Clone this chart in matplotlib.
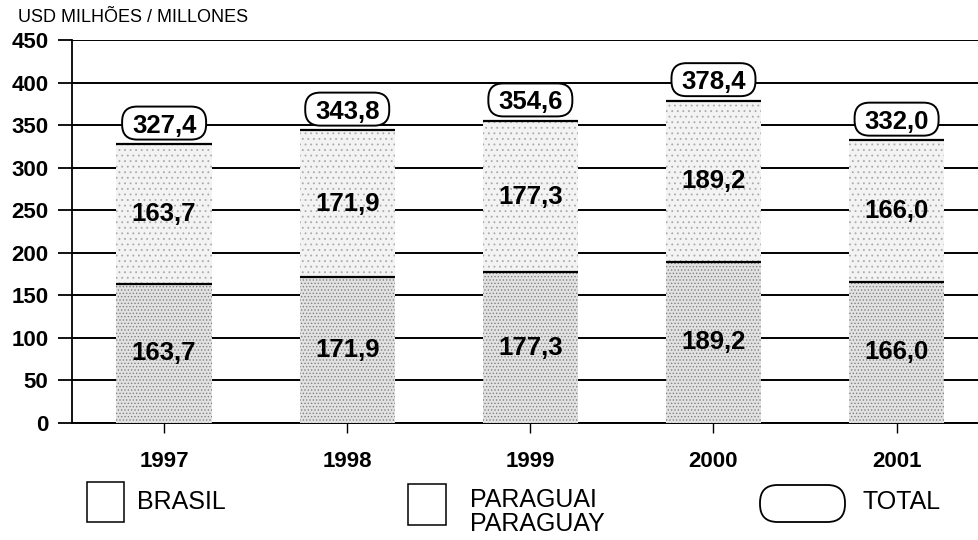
import matplotlib
matplotlib.use("Agg")
import matplotlib.pyplot as plt
from matplotlib.patches import FancyBboxPatch, Rectangle
import numpy as np

plt.rcParams['font.family'] = ['Liberation Sans', 'DejaVu Sans']
plt.rcParams['hatch.linewidth'] = 0.6

years = ['1997', '1998', '1999', '2000', '2001']
brasil = [163.7, 171.9, 177.3, 189.2, 166.0]
paraguai = [163.7, 171.9, 177.3, 189.2, 166.0]
totals = [327.4, 343.8, 354.6, 378.4, 332.0]
yticks = [0, 50, 100, 150, 200, 250, 300, 350, 400, 450]


def fmt(v):
    return f"{v:.1f}".replace('.', ',')


W, H = 979, 540
fig = plt.figure(figsize=(W / 100, H / 100), dpi=100)
ax = fig.add_axes([72 / W, 117 / H, 1 - 72 / W, 383 / H])

x = np.arange(len(years))
w = 0.52
XMIN, XMAX, YMAX = -0.503, 4.45, 450
ax.set_xlim(XMIN, XMAX)
ax.set_ylim(0, YMAX)

ax.bar(x, brasil, width=w, color='#e2e2e2', edgecolor='#808080',
       linewidth=0, hatch='.....', zorder=3)
ax.bar(x, paraguai, width=w, bottom=brasil, color='#f3f3f3',
       edgecolor='#aaaaaa', linewidth=0, hatch='...', zorder=3)

# dark rules at the top of each segment
ax.hlines(brasil, x - w / 2, x + w / 2, color='black', lw=1.6, zorder=4)
ax.hlines(totals, x - w / 2, x + w / 2, color='black', lw=1.6, zorder=4)

# pixel scale of the data axes, used to keep the total boxes' corners round
px_x = ax.get_position().width * W / (XMAX - XMIN)
px_y = ax.get_position().height * H / YMAX
box_w, box_h = 84 / px_x, 33 / px_y
rad = 15 / px_x

val_font = dict(fontsize=18.5, fontweight='semibold')

for xi, b, p, t in zip(x, brasil, paraguai, totals):
    ax.text(xi, b / 2, fmt(b), ha='center', va='center', zorder=5, **val_font)
    ax.text(xi, b + p / 2, fmt(p), ha='center', va='center', zorder=5,
            **val_font)
    yc = t + 25
    ax.add_patch(FancyBboxPatch((xi - box_w / 2, yc - box_h / 2), box_w, box_h,
                                boxstyle=f'round,pad=0,rounding_size={rad}',
                                mutation_aspect=px_x / px_y, fc='white',
                                ec='black', lw=1.4, zorder=6))
    ax.text(xi, yc, fmt(t), ha='center', va='center_baseline', zorder=7,
            **val_font)

ax.set_yticks(yticks)
ax.set_yticklabels([str(v) for v in yticks], fontsize=16, fontweight='bold')
ax.set_xticks(x)
ax.set_xticklabels(years, fontsize=16, fontweight='bold')
ax.tick_params(axis='y', length=10, width=1.3, pad=7, direction='out')
ax.tick_params(axis='x', length=7, width=1.0, pad=13, direction='out')
ax.yaxis.grid(True, color='black', lw=1.4, zorder=0)
ax.set_axisbelow(True)
for s in ['top', 'right']:
    ax.spines[s].set_visible(False)
ax.spines['left'].set_linewidth(1.3)
ax.spines['bottom'].set_linewidth(1.4)

fig.text(18 / W, 1 - 18 / H, 'USD MILHÕES / MILLONES', fontsize=13,
         ha='left', va='center')

# legend along the bottom
fig.patches.append(Rectangle((87 / W, 1 - 522 / H), 37 / W, 40 / H,
                             transform=fig.transFigure, fc='white',
                             ec='black', lw=1.1))
fig.text(137 / W, 1 - 502 / H, 'BRASIL', fontsize=18, va='center', ha='left')
fig.patches.append(Rectangle((408 / W, 1 - 525 / H), 38 / W, 41 / H,
                             transform=fig.transFigure, fc='white',
                             ec='black', lw=1.1))
fig.text(470 / W, 1 - 512 / H, 'PARAGUAI\nPARAGUAY', fontsize=18,
         va='center', ha='left', linespacing=1.0)
fig.patches.append(FancyBboxPatch((760 / W, 1 - 522 / H), 85 / W, 37 / H,
                                  transform=fig.transFigure,
                                  boxstyle='round,pad=0,rounding_size=0.018',
                                  mutation_aspect=W / H, fc='white',
                                  ec='black', lw=1.3))
fig.text(863 / W, 1 - 502 / H, 'TOTAL', fontsize=18, va='center', ha='left')

fig.savefig('out.png', dpi=100)
